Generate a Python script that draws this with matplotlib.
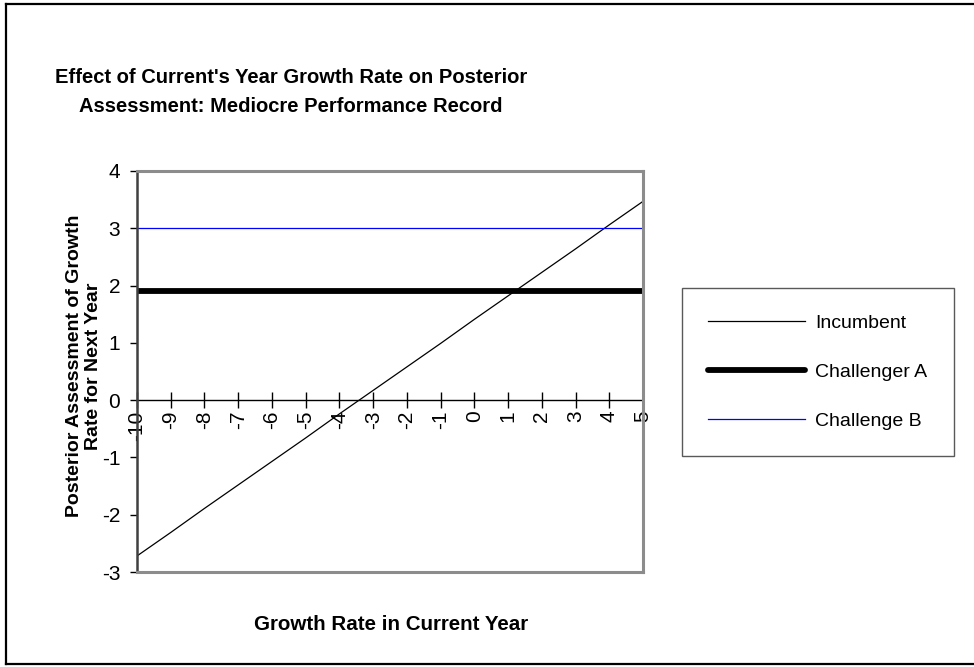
import matplotlib
matplotlib.use("Agg")
import matplotlib.pyplot as plt
from matplotlib.lines import Line2D

plt.rcParams['font.family'] = ['Liberation Sans', 'DejaVu Sans']

growth_rates = [-10, -9, -8, -7, -6, -5, -4, -3, -2, -1, 0, 1, 2, 3, 4, 5]
incumbent = [-2.72, -2.31, -1.89, -1.48, -1.07, -0.66, -0.24, 0.17,
             0.58, 0.99, 1.41, 1.82, 2.23, 2.64, 3.06, 3.47]
challenger_a = [1.9] * 16
challenge_b = [3.0] * 16
y_ticks = [-3, -2, -1, 0, 1, 2, 3, 4]

W, H = 974, 667
fig = plt.figure(figsize=(W / 100, H / 100), dpi=100)
left, right, top, bottom = 137, 643, 171, 572
ax = fig.add_axes([left / W, 1 - bottom / H, (right - left) / W, (bottom - top) / H])

x = list(range(len(growth_rates)))
ax.plot(x, incumbent, color='black', lw=0.9, label='Incumbent')
ax.plot(x, challenger_a, color='black', lw=4.2, solid_capstyle='round', label='Challenger A')
ax.plot(x, challenge_b, color='#0000FF', lw=0.9, label='Challenge B')

ax.set_xlim(0, len(growth_rates) - 1)
ax.set_ylim(-3, 4)
ax.set_yticks(y_ticks)
ax.set_yticklabels([str(v) for v in y_ticks], fontsize=15)
ax.tick_params(axis='y', direction='out', length=5, width=1, color='black', pad=7)
ax.set_xticks([])

for s in ['top', 'right', 'bottom']:
    ax.spines[s].set_color('#8c8c8c')
    ax.spines[s].set_linewidth(2.2)
ax.spines['left'].set_color('#404040')
ax.spines['left'].set_linewidth(1.8)

# category axis crossing at y = 0
sec = ax.secondary_xaxis(3 / 7)
sec.set_xticks(x)
sec.set_xticklabels([str(v) for v in growth_rates], rotation=90, fontsize=15)
sec.tick_params(axis='x', direction='inout', length=11, width=1, color='black', pad=2)
sec.spines['bottom'].set_color('black')
sec.spines['bottom'].set_linewidth(1)

ax.set_ylabel('Posterior Assessment of Growth\nRate for Next Year', fontsize=14,
              fontweight='bold', linespacing=1.12)
ax.yaxis.set_label_coords((102 - left) / (right - left), (bottom - 366) / (bottom - top))

fig.text(391 / W, 1 - 624 / H, 'Growth Rate in Current Year', fontsize=14.8,
         fontweight='bold', ha='center', va='center')
fig.text(291 / W, 1 - 92 / H,
         "Effect of Current's Year Growth Rate on Posterior\nAssessment: Mediocre Performance Record",
         fontsize=14.5, fontweight='bold', ha='center', va='center', linespacing=1.72)

leg = ax.legend(loc='center left', bbox_to_anchor=(682 / W, 1 - 372 / H),
                bbox_transform=fig.transFigure, fontsize=14, frameon=True,
                fancybox=False, edgecolor='#303030', handlelength=5.0,
                handletextpad=0.5, labelspacing=1.6, borderpad=1.35,
                borderaxespad=0)
leg.get_frame().set_linewidth(1.0)

# outer frame
fig.add_artist(Line2D([6 / W, 6 / W], [1 - 4 / H, 1 - 664 / H], color='black', lw=1.6,
                      transform=fig.transFigure))
fig.add_artist(Line2D([6 / W, 1.0], [1 - 4 / H, 1 - 4 / H], color='black', lw=1.6,
                      transform=fig.transFigure))
fig.add_artist(Line2D([6 / W, 1.0], [1 - 664 / H, 1 - 664 / H], color='black', lw=1.6,
                      transform=fig.transFigure))

fig.savefig('out.png', dpi=100)
